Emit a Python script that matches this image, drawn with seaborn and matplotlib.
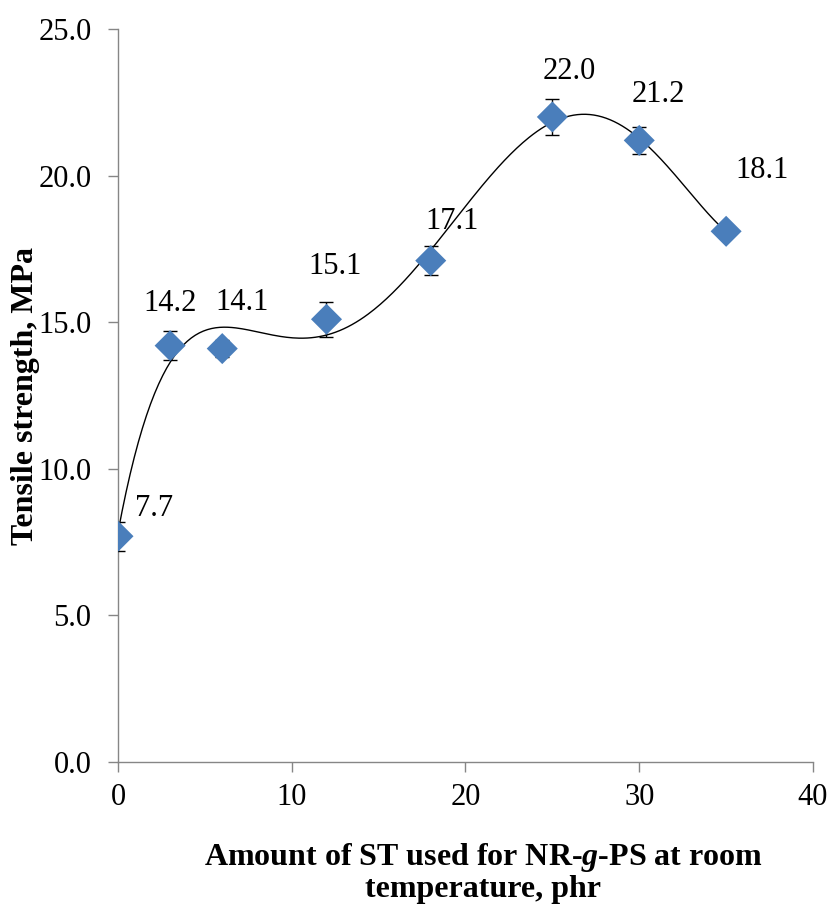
import numpy as np
import pandas as pd
import matplotlib
matplotlib.use("Agg")
import matplotlib.pyplot as plt
import seaborn as sns

# Tensile strength of NR-g-PS vs. amount of ST
st_phr = [0, 3, 6, 12, 18, 25, 30, 35]
tensile_mpa = [7.7, 14.2, 14.1, 15.1, 17.1, 22.0, 21.2, 18.1]
tensile_err = [0.5, 0.5, 0.3, 0.6, 0.5, 0.6, 0.45, 0.1]
y_ticks = [0.0, 5.0, 10.0, 15.0, 20.0, 25.0]
x_ticks = [0, 10, 20, 30, 40]

sns.set_theme(style="white")
plt.rcParams["font.family"] = ["Liberation Serif", "DejaVu Serif"]
plt.rcParams["text.color"] = "black"
plt.rcParams["mathtext.fontset"] = "custom"
plt.rcParams["mathtext.rm"] = "Liberation Serif:bold"
plt.rcParams["mathtext.it"] = "Liberation Serif:italic:bold"
plt.rcParams["mathtext.bf"] = "Liberation Serif:bold"

df = pd.DataFrame({"st": st_phr, "ts": tensile_mpa, "err": tensile_err})

fig = plt.figure(figsize=(8.32, 9.08), dpi=100)
ax = fig.add_axes([118 / 832, 1 - 762 / 908, (813 - 118) / 832, (762 - 29) / 908])

# polynomial trendline through the measured points
coef = np.polyfit(df["st"], df["ts"], 5)
xs = np.linspace(0, 35, 300)
trend = pd.DataFrame({"st": xs, "ts": np.polyval(coef, xs)})
sns.lineplot(data=trend, x="st", y="ts", ax=ax, color="black", lw=1.0, zorder=2)

ax.errorbar(df["st"], df["ts"], yerr=df["err"], fmt="none", ecolor="black",
            elinewidth=1.0, capsize=5, capthick=1.0, zorder=3)
sns.scatterplot(data=df, x="st", y="ts", ax=ax, marker="D", s=250,
                color="#4A7EBB", edgecolor="none", zorder=4)

# value labels
offsets = [(26, 20), (0, 30), (14, 33), (6, 38), (15, 28), (12, 33), (14, 33), (26, 44)]
for x, y, (dx, dy) in zip(df["st"], df["ts"], offsets):
    ax.annotate(f"{y:.1f}", (x, y), xytext=(dx, dy), textcoords="offset points",
                ha="center", va="center", fontsize=22, color="black")

ax.set_xlim(0, 40)
ax.set_ylim(0, 25)
ax.set_xticks(x_ticks)
ax.set_yticks(y_ticks)
ax.set_xticklabels([str(t) for t in x_ticks])
ax.set_yticklabels([f"{t:.1f}" for t in y_ticks])
ax.tick_params(axis="both", direction="out", length=7, width=1, color="#868686",
               labelsize=22, labelcolor="black", bottom=True, left=True)
ax.tick_params(axis="x", pad=8)
ax.tick_params(axis="y", pad=12)

for side in ["top", "right"]:
    ax.spines[side].set_visible(False)
for side in ["left", "bottom"]:
    ax.spines[side].set_color("#868686")
    ax.spines[side].set_linewidth(1.0)

ax.set_xlabel("")
ax.set_ylabel("")
fig.text(26 / 832, 1 - 396 / 908, "Tensile strength, MPa", rotation=90,
         ha="center", va="center", fontsize=23, fontweight="bold", color="black")
# two-line x-axis title
fig.text(483 / 832, 1 - 865 / 908, "Amount of ST used for NR-$g$-PS at room",
         ha="center", va="baseline", fontsize=23, fontweight="bold", color="black")
fig.text(483 / 832, 1 - 897 / 908, "temperature, phr",
         ha="center", va="baseline", fontsize=23, fontweight="bold", color="black")

fig.savefig("out.png", dpi=100)
